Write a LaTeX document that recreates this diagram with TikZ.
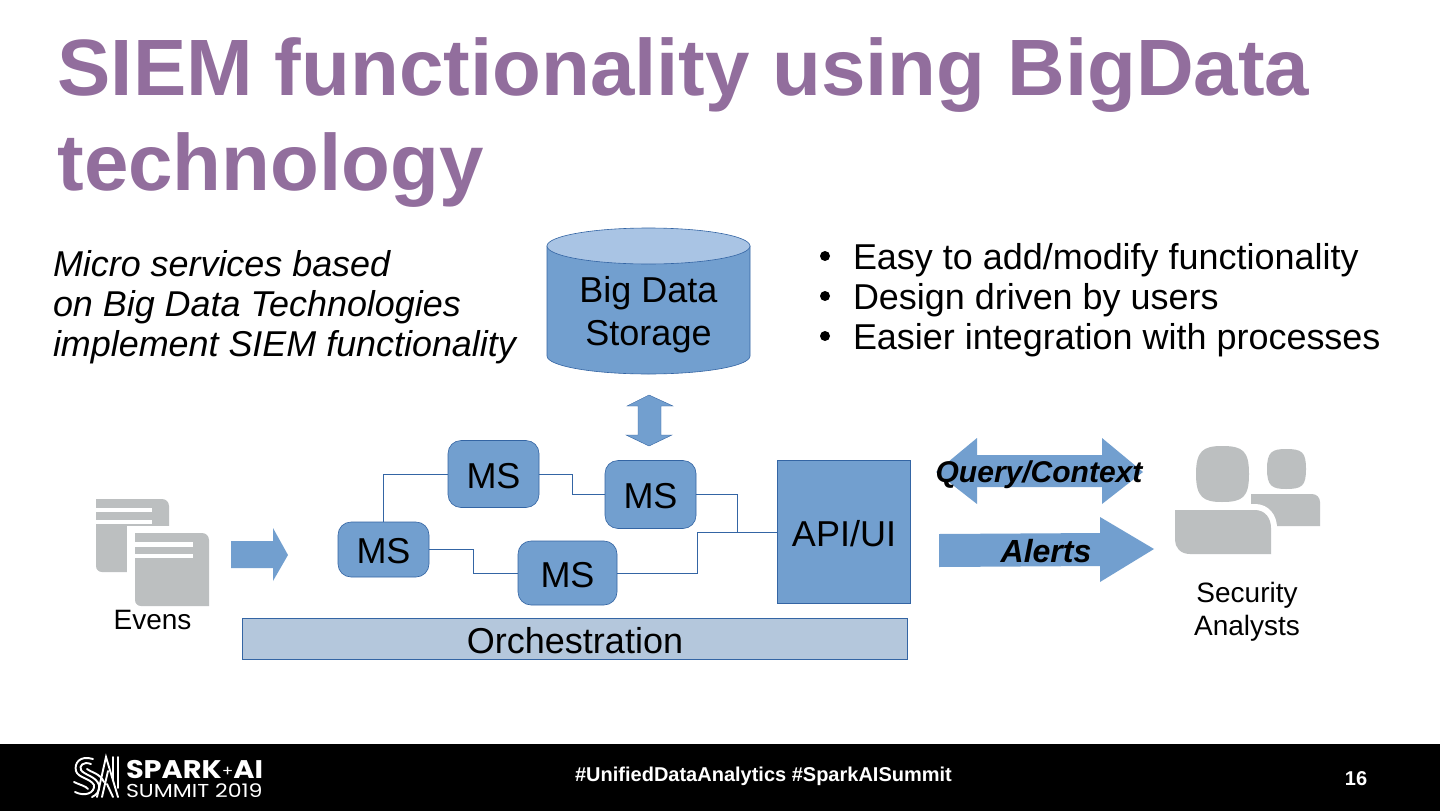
\documentclass[tikz,border=0pt]{standalone}
\usepackage{fontspec}
\setmainfont{Liberation Sans}
\newfontfamily\logofont[FakeStretch=1.13]{Poppins}
\newfontfamily\logofontb[FakeStretch=1.18]{Poppins}
\definecolor{boxblue}{HTML}{729FCF}
\definecolor{edgeblue}{HTML}{3465A4}
\definecolor{lightblue}{HTML}{A9C4E4}
\definecolor{orchblue}{HTML}{B4C7DC}
\definecolor{titlepurple}{HTML}{926E9D}
\definecolor{icongray}{HTML}{BCBFC0}
\tikzset{
  x=1pt,y=-1pt,
  fs/.style={font=\fontsize{#1}{#1}\selectfont},
  plain/.style={inner sep=0pt,outer sep=0pt,align=center,text=black},
  msbox/.style={draw=edgeblue,line width=0.6pt,fill=boxblue,rounded corners=13pt,inner sep=0pt},
  wire/.style={draw=edgeblue,line width=0.8pt},
  blockarrow/.style={fill=boxblue,draw=none},
  thinarrow/.style={fill=boxblue,draw=edgeblue,line width=0.4pt},
  icon/.style={fill=icongray,draw=none},
}
\begin{document}
\begin{tikzpicture}
\useasboundingbox (0,0) rectangle (1440,811);
\fill[white] (0,0) rectangle (1440,811);
\fill[black] (0,744) rectangle (1440,811);

% title
\node[plain,anchor=base west,text=titlepurple,fs=79.9] (t1) at (57.5,95) {\bfseries SIEM functionality using BigData};
\node[plain,anchor=base west,text=titlepurple,fs=79.9] (t2) at (57.5,190) {\bfseries technology};

% left text
\node[plain,anchor=base west,fs=35.9] (l1) at (53,276) {\itshape Micro services based};
\node[plain,anchor=base west,fs=35.9] (l2) at (53,316) {\itshape on Big Data Technologies};
\node[plain,anchor=base west,fs=35.9] (l3) at (53,356) {\itshape implement SIEM functionality};

% bullets
\foreach \y/\tx [count=\i] in {269/Easy to add\slash modify functionality,309/Design driven by users,349/Easier integration with processes}{
  \node[plain,anchor=base west,fs=35.95] (b\i) at (853,\y) {\tx};
  \fill[black] (825,\y-13) circle (5pt);
}

% cylinder
\path[fill=boxblue,draw=edgeblue,line width=0.6pt] (547,246) -- (547,356) arc[start angle=180,end angle=360,x radius=101.5,y radius=-18] -- (750,246) -- cycle;
\path[fill=lightblue,draw=edgeblue,line width=0.6pt] (648.5,246) ellipse[x radius=101.5,y radius=18];
\node[plain,fs=36] (store) at (648.5,315) {Big Data\\[7pt]Storage};

% up-down arrow
\path[thinarrow] (649,395) -- (673,406) -- (661,406) -- (661,435) -- (672,435) -- (649,446) -- (626,435) -- (638,435) -- (638,406) -- (627,406) -- cycle;

% event arrow
\path[blockarrow] (231,541) -- (273,541) -- (273,528) -- (288,555) -- (273,581) -- (273,568) -- (231,568) -- cycle;

% micro services
\node[msbox,minimum width=91pt,minimum height=55pt] (m1) at (383.5,549.5) {};
\node[msbox,minimum width=91pt,minimum height=67pt] (m2) at (493.5,474) {};
\node[msbox,minimum width=91pt,minimum height=68pt] (m3) at (650.5,494.5) {};
\node[msbox,minimum width=99pt,minimum height=64pt] (m4) at (567.5,573) {};
\node[plain,fs=36] (m1t) at (383.5,551.5) {MS};
\node[plain,fs=36] (m2t) at (493.5,476) {MS};
\node[plain,fs=36] (m3t) at (650.5,496.5) {MS};
\node[plain,fs=36] (m4t) at (567.5,575) {MS};
\node[draw=edgeblue,line width=0.6pt,fill=boxblue,inner sep=0pt,minimum width=133.5pt,minimum height=143.5pt] (api) at (843.75,532) {};
\node[plain,fs=36] (apit) at (844,534) {API/UI};
\node[draw=edgeblue,line width=0.6pt,fill=orchblue,inner sep=0pt,minimum width=665.5pt,minimum height=41.5pt] (orch) at (574.75,639) {};
\node[plain,fs=36] (orchtext) at (575,641) {Orchestration};

% connectors
\draw[wire] (m1.north) |- (m2.west);
\draw[wire] (m2.east) -- ++(33.5,0) |- (m3.west);
\draw[wire] (m3.east) -- ++(41,0) |- (api.west);
\draw[wire] (m1.east) -- ++(44.5,0) |- (m4.west);
\draw[wire] (m4.east) -- ++(80,0) |- (api.west);

% query / alerts arrows
\path[blockarrow] (936,472) -- (977,438) -- (977,455) -- (1102,455) -- (1102,438) -- (1143,472) -- (1102,504) -- (1102,487) -- (977,487) -- (977,504) -- cycle;
\node[plain,fs=30] (query) at (1039,475) {\bfseries\itshape Query/Context};
\path[blockarrow] (939,534) -- (1100,533) -- (1100,517) -- (1154,549) -- (1100,582) -- (1100,566) -- (939,567) -- cycle;
\node[plain,fs=32] (alerts) at (1046,551) {\bfseries\itshape Alerts};

% document icon
\path[icon] (96,499) -- (162,499) to[out=0,in=90] (169,506) -- (169,572) -- (102,572) to[out=180,in=-90] (96,566) -- cycle;
\fill[white] (96,508) rectangle (152,512);
\fill[white] (96,519.5) rectangle (152,524);
\path[fill=white] (127,526) rectangle (214,612);
\path[icon] (135,533) -- (202,533) to[out=0,in=90] (209,540) -- (209,606) -- (141,606) to[out=180,in=-90] (135,600) -- cycle;
\fill[white] (135,542) rectangle (193,547);
\fill[white] (135,554) rectangle (193,558);
\node[plain,fs=28] (evens) at (152.5,620) {Evens};

% users icon
\path[icon] (1267,469) .. controls (1267,452) and (1272,449) .. (1286,449) .. controls (1302,449) and (1306,452) .. (1306,469) .. controls (1306,486) and (1302,489) .. (1286,489) .. controls (1272,489) and (1267,486) .. (1267,469) -- cycle;
\path[icon] (1251,494) -- (1312,494) to[out=0,in=90] (1320,502) -- (1320,526) -- (1251,526) -- cycle;
\path[fill=white] (1170,504) rectangle (1250,560);
\path[icon,draw=white,line width=12pt,line join=round] (1175,510) -- (1255,510) .. controls (1265,510) and (1271,518) .. (1271,528) -- (1271,554) -- (1190,554) .. controls (1180,554) and (1175,547) .. (1175,540) -- cycle;
\path[icon] (1175,510) -- (1255,510) .. controls (1265,510) and (1271,518) .. (1271,528) -- (1271,554) -- (1190,554) .. controls (1180,554) and (1175,547) .. (1175,540) -- cycle;
\path[icon] (1196,474) .. controls (1196,451) and (1203,446) .. (1222,446) .. controls (1243,446) and (1249,451) .. (1249,474) .. controls (1249,497) and (1243,502) .. (1222,502) .. controls (1203,502) and (1196,497) .. (1196,474) -- cycle;
\node[plain,fs=28] (sec) at (1247,612) {Security\\[5pt]Analysts};

% footer
\node[plain,anchor=base,text=white,fs=20] (tag) at (763.5,781) {\bfseries \#UnifiedDataAnalytics \#SparkAISummit};
\node[plain,anchor=base,text=white,fs=20] (pg) at (1356,785) {\bfseries 16};

% logo
\begin{scope}[draw=white,line width=1.9pt,line cap=round]
\draw (93,759) .. controls (80,755) and (74,763) .. (76,771) .. controls (78,778) and (90,778) .. (94,785) .. controls (95,793) and (85,797) .. (75,792);
\draw (91,764) .. controls (83,761) and (79,766) .. (81,770) .. controls (84,775) and (96,776) .. (99,785) .. controls (100,792) and (96,795) .. (92,797);
\draw (87,769) .. controls (90,772) and (100,773) .. (104,782);
\draw (74,782) .. controls (80,785) and (86,786) .. (88,789);
\draw (97,797) -- (106,757) -- (118,797);
\draw (102,797) -- (108,771);
\draw (107,784) -- (113,797);
\draw (113,757) -- (113,780);
\draw (118,757) -- (118,788);
\end{scope}
\node[plain,anchor=base west,text=white,fs=25.5] (spark) at (126,778) {\logofont\bfseries SPARK\raisebox{2pt}{\fontsize{15}{15}\selectfont\mdseries +}AI};
\node[plain,anchor=base west,text=white,fs=18.7] (summit) at (126,797.5) {\logofontb SUMMIT 2019};
\end{tikzpicture}
\end{document}
